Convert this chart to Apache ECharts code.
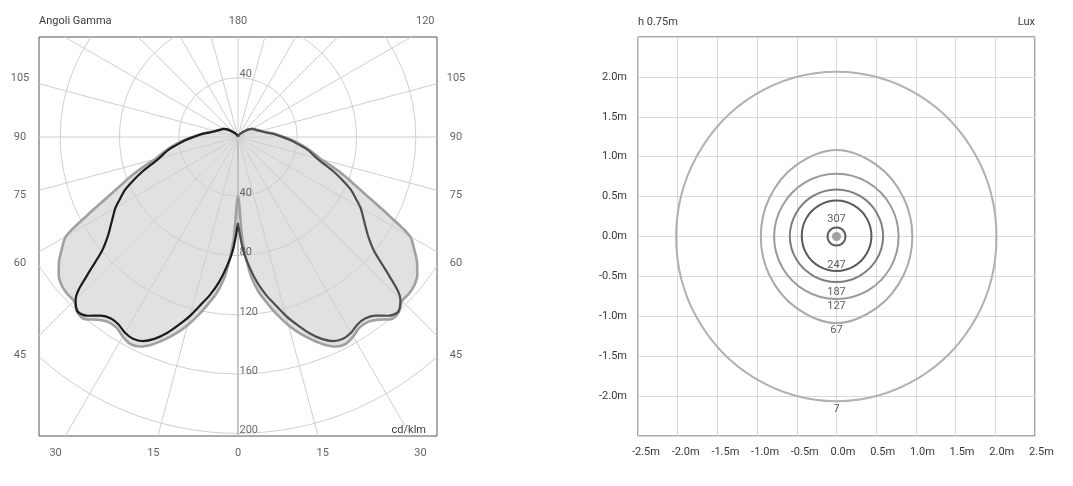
<!DOCTYPE html>
<html>
<head>
<meta charset="utf-8">
<title>Fotometria</title>
<script src="https://cdn.jsdelivr.net/npm/echarts@6.0.0/dist/echarts.min.js"></script>
<style>
  html, body { margin: 0; padding: 0; background: #fff; }
  #chart { width: 1073px; height: 486px; }
</style>
</head>
<body>
<div id="chart"></div>
<script>
// ---- polar diagram data (gamma in degrees from nadir, intensity in cd/klm)
var gammaAngles = [0, 2.5, 5, 7.5, 10, 12.5, 15, 17.5, 20, 22.5,
  25, 27.5, 30, 32.5, 35, 37.5, 40, 42.5, 45, 47.5,
  50, 52.5, 55, 57.5, 60, 62.5, 65, 67.5, 70, 72.5,
  75, 77.5, 80, 82.5, 85, 87.5, 90, 95, 100, 105,
  110, 115, 120, 125, 130, 140, 150, 165, 180];
// C0-C180 plane (grey, filled)
var planeC0 = [40, 70, 92, 105, 114, 123, 131.5, 139, 145.5, 151.5,
  156, 157.5, 155.5, 152.5, 152.5, 155.5, 160.5, 160.5, 156.5, 156.5,
  155.5, 152.5, 147.5, 141, 134, 115, 98.5, 86, 76.5, 67,
  58, 53, 48.5, 44, 39.5, 35, 31, 24.5, 19, 16,
  14, 12.5, 11, 9, 6.5, 3.5, 2, 0.8, 0];
// C90-C270 plane (dark line)
var planeC90 = [58, 76, 88, 99, 108, 116, 125, 133, 141, 147.5,
  152, 153.5, 152.5, 150, 149.5, 152, 157.5, 160, 155, 138,
  120, 111, 105, 100, 95.5, 89.5, 84, 76.5, 69, 61,
  55, 51, 47, 42, 38, 34, 30, 24, 18.5, 15.5,
  13.5, 12.2, 11, 9, 6.5, 3.5, 2, 0.8, 0];

var ringValues = [40, 80, 120, 160, 200];
var upperRingLabels = [40];
var spokeAngles = [0, 15, 30, 45, 60, 75, 90, 105, 120, 135, 150, 165];
var gammaTicksLeft = [0, 15, 30, 45, 60, 75, 90, 105];
var gammaTicksRight = [15, 30, 45, 60, 75, 90, 105, 120, 180];

// ---- isolux data (radius in m at each direction, degrees counter-clockwise from +x)
var luxLevels = [7, 67, 127, 187, 247, 307];
var contourAngles = [0, 30, 60, 90, 120, 150, 180, 210, 240, 270, 300, 330];
var iso7 = [2.015, 2.03, 2.06, 2.075, 2.06, 2.03, 2.02, 2.035, 2.06, 2.075, 2.06, 2.035];
var iso67 = [0.955, 0.975, 1.03, 1.088, 1.03, 0.975, 0.953, 0.975, 1.03, 1.09, 1.03, 0.975];
var iso127 = [0.782, 0.784, 0.787, 0.79, 0.787, 0.784, 0.786, 0.786, 0.787, 0.788, 0.787, 0.784];
var iso187 = [0.587, 0.588, 0.59, 0.593, 0.59, 0.588, 0.588, 0.582, 0.575, 0.572, 0.575, 0.582];
var iso247 = [0.44, 0.444, 0.448, 0.452, 0.448, 0.444, 0.437, 0.437, 0.436, 0.435, 0.436, 0.437];
var iso307 = [0.113, 0.113, 0.113, 0.113, 0.113, 0.113, 0.113, 0.113, 0.113, 0.113, 0.113, 0.113];

// ---- layout
var FONT = 'Roboto';
var TXT = '#3a3a3a';
var LX = 134.3, LTOP = 67.5, LBOT = -201.8;           // polar box extent in cd/klm
var LABEL_X = 147.1, LABEL_TOP = 78.3, LABEL_BOTTOM = -213.2;
var RG = { left: 638, top: 37, width: 397, height: 399 };

function toXY(g, v, side) {
  var a = g * Math.PI / 180;
  return [side * v * Math.sin(a), -v * Math.cos(a)];
}
function halfPath(values, side, reverse) {
  var pts = [];
  for (var i = 0; i < gammaAngles.length; i++) {
    var k = reverse ? gammaAngles.length - 1 - i : i;
    pts.push(toXY(gammaAngles[k], values[k], side));
  }
  return pts;
}

var c0Left = halfPath(planeC0, -1, true);
var c0Right = halfPath(planeC0, 1, false);
var c0Path = c0Left.concat(c0Right.slice(1));
var c90Left = halfPath(planeC90, -1, true);
var c90Right = halfPath(planeC90, 1, false);

function gammaLabel(g, side) {
  var a = g * Math.PI / 180, dx = Math.sin(a), dy = -Math.cos(a);
  if (Math.abs(dx) < 1e-9) dx = 0;
  if (Math.abs(dy) < 1e-9) dy = 0;
  var tx = dx !== 0 ? LABEL_X / Math.abs(dx) : Infinity;
  var ty = dy > 0 ? LABEL_TOP / dy : (dy < 0 ? LABEL_BOTTOM / dy : Infinity);
  var t = Math.min(tx, ty);
  var item = { name: String(g), value: [side * dx * t, dy * t] };
  if (t === ty && dy > 0 && Math.abs(item.value[0]) > LX) {
    item.value = [side * LX, dy * t];
    item.label = { position: side > 0 ? 'left' : 'right', distance: 2 };
  }
  return item;
}
var gammaLabelData = gammaTicksLeft.map(function (g) { return gammaLabel(g, -1); })
  .concat(gammaTicksRight.map(function (g) { return gammaLabel(g, 1); }));

var ringLabelData = ringValues.map(function (r) { return { name: String(r), value: [0, -r] }; })
  .concat(upperRingLabels.map(function (r) { return { name: String(r), value: [0, r] }; }));

var isoSets = [iso7, iso67, iso127, iso187, iso247, iso307];
var isoColors = ['#b1b1b1', '#aaaaaa', '#9a9a9a', '#7e7e7e', '#5a5a5a', '#5a5a5a'];
var idxBottom = contourAngles.indexOf(270), idxTop = contourAngles.indexOf(90);
var isoLabelData = luxLevels.map(function (lv, i) {
  var r = isoSets[i];
  if (lv === 307) return { name: String(lv), value: [r[idxTop], 90], label: { position: 'top', distance: 2 } };
  if (lv === 247) return { name: String(lv), value: [r[idxBottom], 270], label: { position: 'top', distance: 0 } };
  return { name: String(lv), value: [r[idxBottom], 270], label: { position: 'bottom', distance: lv === 187 ? 4 : 1.5 } };
});

var series = [
  {
    type: 'custom', xAxisIndex: 0, yAxisIndex: 0, z: 1, silent: true,
    data: [[0, 0]],
    renderItem: function (params, api) {
      var pts = c0Path.map(function (p) { return api.coord(p); });
      return { type: 'polygon', shape: { points: pts, smooth: 0.3 }, style: { fill: '#e1e1e3', stroke: null } };
    }
  },
  {
    type: 'custom', xAxisIndex: 0, yAxisIndex: 0, z: 2, silent: true, clip: true,
    data: ringValues.map(function (r) { return [r, 0]; }),
    renderItem: function (params, api) {
      var c = api.coord([0, 0]);
      var rr = api.size([api.value(0), 0])[0];
      return { type: 'circle', shape: { cx: c[0], cy: c[1], r: rr }, style: { fill: 'none', stroke: '#cfcfcf', lineWidth: 1 } };
    }
  },
  {
    type: 'custom', xAxisIndex: 0, yAxisIndex: 0, z: 2, silent: true, clip: true,
    data: spokeAngles.map(function (a) { return [a, 0]; }),
    renderItem: function (params, api) {
      var g = api.value(0);
      var p1 = api.coord(toXY(g, 400, 1));
      var p2 = api.coord(toXY(g + 180, 400, 1));
      var kids = [{ type: 'line', shape: { x1: p1[0], y1: p1[1], x2: p2[0], y2: p2[1] }, style: { stroke: '#cfcfcf', lineWidth: 1 } }];
      if (g === 0) {
        var c = api.coord([0, 0]);
        kids.push({ type: 'line', shape: { x1: c[0], y1: c[1], x2: p1[0], y2: p1[1] }, style: { stroke: '#b4b4b4', lineWidth: 1.3 } });
      }
      return { type: 'group', children: kids };
    }
  },
  {
    type: 'line', xAxisIndex: 0, yAxisIndex: 0, z: 3, silent: true,
    data: c0Path, smooth: 0.3, symbol: 'none',
    lineStyle: { color: '#a0a0a0', width: 2.6 }
  },
  {
    type: 'line', xAxisIndex: 0, yAxisIndex: 0, z: 4, silent: true,
    data: c90Left, smooth: 0.3, symbol: 'none',
    lineStyle: { color: '#1c1c1c', width: 2.2 }
  },
  {
    type: 'line', xAxisIndex: 0, yAxisIndex: 0, z: 4, silent: true,
    data: c90Right, smooth: 0.3, symbol: 'none',
    lineStyle: { color: '#4e4e4e', width: 2.2 }
  },
  {
    type: 'scatter', xAxisIndex: 0, yAxisIndex: 0, z: 5, silent: true,
    data: ringLabelData, symbolSize: 1, itemStyle: { color: 'rgba(0,0,0,0)' },
    label: { show: true, position: 'right', distance: 1, offset: [0, -3], formatter: '{b}', color: '#444', fontSize: 11, fontFamily: FONT }
  },
  {
    type: 'scatter', xAxisIndex: 0, yAxisIndex: 0, z: 5, silent: true, clip: false,
    data: gammaLabelData, symbolSize: 1, itemStyle: { color: 'rgba(0,0,0,0)' },
    label: { show: true, position: 'inside', formatter: '{b}', color: TXT, fontSize: 11, fontFamily: FONT }
  }
];

// isolux contours: closed smooth outlines in the polar system laid over the right grid
isoSets.forEach(function (r, i) {
  series.push({
    type: 'custom', coordinateSystem: 'polar', polarIndex: 0, z: 3, silent: true,
    data: [[0, 0]],
    renderItem: function (params, api) {
      var pts = contourAngles.map(function (a, k) { return api.coord([r[k], a]); });
      return { type: 'polygon', shape: { points: pts, smooth: 0.35 }, style: { fill: 'none', stroke: isoColors[i], lineWidth: 2 } };
    }
  });
});
series.push({
  type: 'scatter', coordinateSystem: 'polar', polarIndex: 0, z: 5, silent: true,
  data: isoLabelData, symbolSize: 1, itemStyle: { color: 'rgba(0,0,0,0)' },
  label: { show: true, formatter: '{b}', color: '#333', fontSize: 11, fontFamily: FONT }
});
series.push({
  type: 'scatter', coordinateSystem: 'polar', polarIndex: 0, z: 4, silent: true,
  data: [[0, 0]], symbolSize: 9, itemStyle: { color: '#8c8c8c' }
});

function txt(text, x, y, align) {
  return {
    type: 'text', x: x, y: y, silent: true,
    style: { text: text, fill: TXT, font: '11px ' + FONT, align: align, textAlign: align, verticalAlign: 'middle', textVerticalAlign: 'middle' }
  };
}

var chart = echarts.init(document.getElementById('chart'), null, { renderer: 'canvas' });
chart.setOption({
  animation: false,
  textStyle: { fontFamily: FONT },
  grid: [
    { left: 39, top: 37, width: 398, height: 399, show: true, borderColor: '#555', borderWidth: 1, backgroundColor: 'transparent' },
    { left: RG.left, top: RG.top, width: RG.width, height: RG.height, show: true, borderColor: '#555', borderWidth: 1, backgroundColor: 'transparent' },
    { left: RG.left - 6, top: RG.top, width: RG.width, height: RG.height, show: false }
  ],
  xAxis: [
    { gridIndex: 0, type: 'value', min: -LX, max: LX, show: false },
    {
      gridIndex: 1, type: 'value', min: -2.5, max: 2.5, interval: 0.5,
      axisLine: { show: false }, axisTick: { show: false }, axisLabel: { show: false },
      splitLine: { show: true, lineStyle: { color: '#d9d9d9', width: 1 } }
    },
    {
      gridIndex: 2, type: 'value', min: -2.5, max: 2.5, interval: 0.5, position: 'bottom',
      axisLine: { show: false }, axisTick: { show: false }, splitLine: { show: false },
      axisLabel: { align: 'left', margin: 11, color: TXT, fontSize: 11, fontFamily: FONT,
        formatter: function (v) { return v.toFixed(1) + 'm'; } }
    }
  ],
  yAxis: [
    { gridIndex: 0, type: 'value', min: LBOT, max: LTOP, show: false },
    {
      gridIndex: 1, type: 'value', min: -2.5, max: 2.5, interval: 0.5,
      axisLine: { show: false }, axisTick: { show: false },
      splitLine: { show: true, lineStyle: { color: '#d9d9d9', width: 1 } },
      axisLabel: { margin: 11, color: TXT, fontSize: 11, fontFamily: FONT, showMinLabel: false, showMaxLabel: false,
        formatter: function (v) { return v.toFixed(1) + 'm'; } }
    },
    { gridIndex: 2, type: 'value', min: -2.5, max: 2.5, show: false }
  ],
  polar: { center: [RG.left + RG.width / 2, RG.top + RG.height / 2], radius: RG.width / 2 },
  angleAxis: { type: 'value', min: 0, max: 360, startAngle: 0, clockwise: false, show: false },
  radiusAxis: { type: 'value', min: 0, max: 2.5, show: false },
  graphic: [
    txt('Angoli Gamma', 39, 21, 'left'),
    txt('cd/klm', 426, 430, 'right'),
    txt('h 0.75m', RG.left, 22, 'left'),
    txt('Lux', RG.left + RG.width, 22, 'right')
  ],
  series: series
});
</script>
</body>
</html>
